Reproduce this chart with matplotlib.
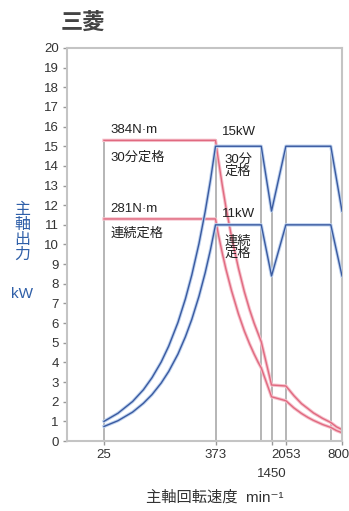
import matplotlib
matplotlib.use("Agg")
import matplotlib.pyplot as plt
import matplotlib.patheffects as pe
import matplotlib.transforms as mtransforms

plt.rcParams['font.family'] = ['Liberation Sans', 'Noto Sans CJK JP', 'DejaVu Sans']

# 出力カーブ (kW)  30分定格 / 連続定格
speed_p = [25, 35, 50, 65, 80, 100, 120, 150, 180, 210, 250, 290, 330, 373,
           1130, 1450, 2053, 6100, 8000]
p_30min = [1.0, 1.41, 2.01, 2.61, 3.22, 4.02, 4.83, 6.03, 7.24, 8.45, 10.05, 11.66, 13.27, 15.0,
           15.0, 11.7, 15.0, 15.0, 11.7]
p_cont = [0.74, 1.03, 1.47, 1.92, 2.36, 2.95, 3.54, 4.42, 5.31, 6.19, 7.37, 8.55, 9.73, 11.0,
          11.0, 8.4, 11.0, 11.0, 8.4]

# トルクカーブ (kW目盛上の位置)
speed_t = [25, 373, 400, 440, 480, 550, 650, 750, 850, 950, 1050, 1130, 1450, 2053,
           2500, 3000, 3500, 4000, 5000, 6100, 7000, 8000]
t_30min = [15.3, 15.3, 14.3, 13.0, 11.9, 10.4, 8.8, 7.6, 6.7, 6.0, 5.45, 5.05, 2.85, 2.8,
           2.3, 1.9, 1.65, 1.43, 1.15, 0.94, 0.72, 0.58]
t_cont = [11.3, 11.3, 10.5, 9.55, 8.75, 7.65, 6.47, 5.6, 4.95, 4.43, 4.0, 3.72, 2.25, 2.05,
          1.68, 1.4, 1.2, 1.05, 0.84, 0.69, 0.53, 0.42]

# 縦の区切り線
v_speed = [25, 373, 1130, 1450, 2053, 6100, 8000]
v_top = [15.3, 15.3, 15.0, 11.7, 15.0, 15.0, 11.7]

xtick_vals = [25, 373, 1450, 2053, 8000]
xtick_labels = ["25", "373", "", "2053", "8000"]

fig = plt.figure(figsize=(3.49, 5.11), dpi=100)
ax = fig.add_axes([67/349, 1-441/511, 275/349, 393/511])
ax.set_xscale("log")
ax.set_xlim(10.2, 8000)
ax.set_ylim(0, 20)

for s, t in zip(v_speed, v_top):
    ax.plot([s, s], [0, t], color="#b5b5b5", lw=1.4, zorder=1)

red_fx = [pe.Stroke(linewidth=2.4, foreground="#f6c0cb"), pe.Normal()]
blue_fx = [pe.Stroke(linewidth=2.4, foreground="#bdd1ee"), pe.Normal()]
ax.plot(speed_t, t_30min, color="#e06a80", lw=1.0, path_effects=red_fx, zorder=2)
ax.plot(speed_t, t_cont, color="#e06a80", lw=1.0, path_effects=red_fx, zorder=2)
ax.plot(speed_p, p_30min, color="#3a5aa0", lw=1.0, path_effects=blue_fx, zorder=3)
ax.plot(speed_p, p_cont, color="#3a5aa0", lw=1.0, path_effects=blue_fx, zorder=3)

ax.set_xticks(xtick_vals)
ax.set_xticklabels(xtick_labels)
ax.xaxis.set_minor_locator(matplotlib.ticker.NullLocator())
ax.set_yticks(range(0, 21))
ax.tick_params(axis="both", labelsize=9.5, colors="#999999", labelcolor="#333333",
               length=3, width=1, pad=3)

# 1450 は2段目に表示
trans = mtransforms.blended_transform_factory(ax.transData, ax.transAxes)
ax.text(1450, -0.085, "1450", transform=trans, fontsize=9.5, color="#333333",
        ha="center", va="center")

for sp in ax.spines.values():
    sp.set_color("#c4c4c4")
    sp.set_linewidth(1.5)

tx = dict(fontsize=9.5, color="#222222", va="center", ha="left")
ax.text(29, 15.85, "384N·m", **tx)
ax.text(29, 14.4, "30分定格", **tx)
ax.text(29, 11.8, "281N·m", **tx)
ax.text(29, 10.55, "連続定格", **tx)
ax.text(437, 15.7, "15kW", **tx)
ax.text(465, 14.0, "30分\n定格", linespacing=1.0, **tx)
ax.text(437, 11.55, "11kW", **tx)
ax.text(465, 9.85, "連続\n定格", linespacing=1.0, **tx)

fig.text(0.175, 0.955, "三菱", fontsize=16, color="#444444", va="center", ha="left",
         fontweight="bold")
fig.text(0.063, 1-232/511, "主\n軸\n出\n力", fontsize=11.5, color="#2f5fa8",
         va="center", ha="center", linespacing=1.0)
fig.text(0.063, 1-294/511, "kW", fontsize=11, color="#2f5fa8", va="center", ha="center")
fig.text(0.616, 1-497/511, "主軸回転速度  min⁻¹", fontsize=11, color="#333333",
         va="center", ha="center")

fig.savefig("out.png", dpi=100)
